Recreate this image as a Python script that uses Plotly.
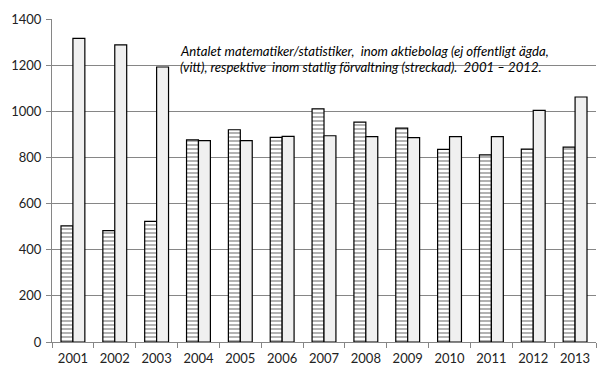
import plotly.graph_objects as go

years = ["2001", "2002", "2003", "2004", "2005", "2006", "2007",
         "2008", "2009", "2010", "2011", "2012", "2013"]
statlig = [503, 483, 523, 876, 920, 887, 1011, 953, 927, 835, 811, 836, 845]
aktiebolag = [1316, 1288, 1192, 873, 873, 891, 894, 890, 886, 890, 890, 1004, 1062]

title_lines = [
    "Antalet matematiker/statistiker,\u00a0 inom aktiebolag (ej offentligt ägda,",
    "(vitt), respektive\u00a0 inom statlig förvaltning (streckad).\u00a0 2001 – 2012.",
]

FONT = "Lato, Calibri, Carlito, sans-serif"
GRID = "#868686"

fig = go.Figure()
fig.add_trace(go.Bar(
    x=years, y=statlig, name="Statlig förvaltning",
    marker=dict(color="white", line=dict(color="black", width=1.2),
                pattern=dict(shape="-", size=4, solidity=0.3,
                             fgcolor="black", bgcolor="white")),
))
fig.add_trace(go.Bar(
    x=years, y=aktiebolag, name="Aktiebolag",
    marker=dict(color="#F0F0F0", line=dict(color="black", width=1.2)),
))

L, R, T, B = 46, 12, 11, 32
W, H = 608, 377
pw, ph = W - L - R, H - T - B

def px_x(x):
    return (x - L) / pw

def px_y(y):
    return (H - B - y) / ph

fig.add_shape(type="rect", xref="paper", yref="paper",
              x0=px_x(170), x1=px_x(568), y0=px_y(96), y1=px_y(24),
              fillcolor="white", line=dict(width=0), layer="between")

for line, yy in zip(title_lines, [44, 61]):
    fig.add_annotation(text=line, xref="paper", yref="paper",
                       x=px_x(173), y=px_y(yy), xanchor="left", yanchor="middle",
                       showarrow=False,
                       font=dict(family=FONT, size=13.2, color="black",
                                 style="italic"))

fig.update_layout(
    width=W, height=H,
    margin=dict(l=L, r=R, t=T, b=B, pad=0),
    paper_bgcolor="white", plot_bgcolor="white",
    barmode="group", bargap=0.43, bargroupgap=0,
    showlegend=False,
    font=dict(family=FONT, size=13, color="#222222"),
    xaxis=dict(type="category", tickson="boundaries", ticks="outside",
               ticklen=5, tickcolor=GRID, showline=True, linecolor=GRID,
               linewidth=1, showgrid=False, tickfont=dict(size=13),
               ticklabelstandoff=4),
    yaxis=dict(range=[0, 1400], dtick=200, ticks="outside", ticklen=5,
               tickcolor=GRID, showline=True, linecolor=GRID, linewidth=1,
               showgrid=True, gridcolor=GRID, gridwidth=1, zeroline=False,
               tickfont=dict(size=13), ticklabelstandoff=2),
)

fig.write_html("out.html", config={"displayModeBar": False},
               post_script="document.body.style.margin='0';document.body.style.overflow='hidden';")
